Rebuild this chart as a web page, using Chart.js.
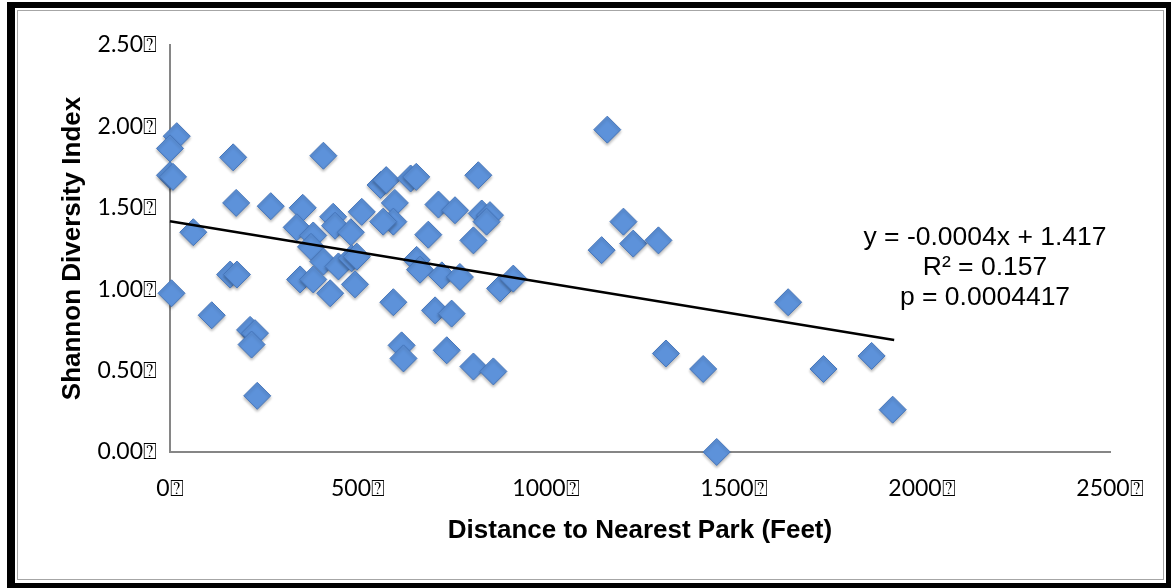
<!DOCTYPE html>
<html>
<head>
<meta charset="utf-8">
<script src="https://cdn.jsdelivr.net/npm/chart.js@4/dist/chart.umd.min.js"></script>
<style>
  html, body { margin: 0; padding: 0; background: #fff; }
  body { width: 1171px; height: 588px; position: relative; overflow: hidden; }
  .frame-outer { position: absolute; left: 7px; top: 2px; right: 0; bottom: 0; background: #000; }
  .frame-inner { position: absolute; left: 15px; top: 8px; width: 1151px; height: 575px; background: #fff; }
  .frame-line { position: absolute; left: 17px; top: 10px; width: 1145px; height: 568px; border: 1px solid #a6a6a6; }
  #chart { position: absolute; left: 0; top: 0; }
</style>
</head>
<body>
<div class="frame-outer"></div>
<div class="frame-inner"></div>
<div class="frame-line"></div>
<canvas id="chart" width="1171" height="588"></canvas>
<script>
// distance to nearest park (feet) and Shannon index
const distance = [
  18, 0, 0, 8, 168, 408, 176, 268, 353, 62,
  337, 381, 434, 439, 481, 510, 560, 575, 640, 655,
  598, 594, 567, 375, 408, 448, 483, 497, 656, 665,
  160, 178, 346, 381, 426, 492, 4, 111, 213, 226,
  217, 232, 594, 616, 621, 1163, 820, 714, 758, 829,
  851, 842, 687, 807, 1206, 1148, 1232, 1299, 723, 771,
  878, 913, 705, 749, 736, 807, 860, 1319, 1418, 1454,
  1644, 1738, 1866, 1922
];
const shannon = [
  1.94, 1.865, 1.70, 1.69, 1.81, 1.82, 1.53, 1.51, 1.50, 1.35,
  1.38, 1.33, 1.445, 1.39, 1.35, 1.475, 1.64, 1.67, 1.68, 1.69,
  1.53, 1.415, 1.415, 1.26, 1.17, 1.14, 1.19, 1.20, 1.18, 1.12,
  1.09, 1.09, 1.06, 1.06, 0.975, 1.03, 0.975, 0.84, 0.75, 0.73,
  0.66, 0.345, 0.92, 0.655, 0.575, 1.98, 1.70, 1.52, 1.485, 1.465,
  1.455, 1.415, 1.335, 1.30, 1.415, 1.24, 1.28, 1.30, 1.085, 1.075,
  1.005, 1.065, 0.87, 0.85, 0.625, 0.525, 0.495, 0.605, 0.51, 0.0,
  0.92, 0.51, 0.59, 0.26
];

// linear trend line ends
const trendX = [0, 1926];
const trendY = [1.417, 0.688];

const xTicks = [0, 500, 1000, 1500, 2000, 2500];
const yTicks = [0, 0.5, 1.0, 1.5, 2.0, 2.5];
const fitLabel = ['y = -0.0004x + 1.417', 'R\u00B2 = 0.157', 'p = 0.0004417'];
const box = '\u2370';

const points = distance.map((d, i) => ({ x: d, y: shannon[i] }));
const trend = trendX.map((d, i) => ({ x: d, y: trendY[i] }));

const fitText = {
  id: 'fitText',
  afterDraw(chart) {
    const ctx = chart.ctx;
    ctx.save();
    ctx.font = '26.5px "Liberation Sans", Arial, sans-serif';
    ctx.fillStyle = '#000';
    ctx.textAlign = 'center';
    ctx.textBaseline = 'middle';
    fitLabel.forEach((t, i) => ctx.fillText(t, 985, 238 + i * 30));
    ctx.restore();
  }
};

const markerShadow = {
  id: 'markerShadow',
  beforeDatasetDraw(chart, args) {
    if (args.index !== 0) return;
    const ctx = chart.ctx;
    ctx.save();
    ctx.shadowColor = 'rgba(0,0,0,0.28)';
    ctx.shadowBlur = 3;
    ctx.shadowOffsetY = 2;
  },
  afterDatasetDraw(chart, args) {
    if (args.index !== 0) return;
    chart.ctx.restore();
  }
};

new Chart(document.getElementById('chart'), {
  type: 'scatter',
  data: {
    datasets: [
      {
        data: points,
        order: 1,
        clip: false,
        pointStyle: 'rectRot',
        pointRadius: 13.5,
        pointBackgroundColor: '#5d92da',
        pointBorderColor: '#4676bb',
        pointBorderWidth: 1
      },
      {
        type: 'line',
        data: trend,
        order: 0,
        clip: false,
        borderColor: '#000',
        borderWidth: 2.5,
        pointRadius: 0,
        fill: false
      }
    ]
  },
  options: {
    responsive: false,
    animation: false,
    events: [],
    layout: { padding: { left: 0, top: 45, right: 61, bottom: 0 } },
    plugins: { legend: { display: false }, tooltip: { enabled: false } },
    scales: {
      x: {
        type: 'linear',
        min: 0,
        max: 2500,
        afterFit: (s) => { s.height = 136; },
        afterBuildTicks: (s) => { s.ticks = xTicks.map(v => ({ value: v })); },
        grid: { drawOnChartArea: false, drawTicks: false },
        border: { color: '#868686', width: 2 },
        ticks: {
          padding: 23,
          color: '#000',
          font: { family: 'Lato', size: 23 },
          maxRotation: 0,
          callback: (v) => v + box
        },
        title: {
          display: true,
          text: 'Distance to Nearest Park (Feet)',
          color: '#000',
          font: { family: '"Liberation Sans", Arial', size: 26, weight: 'bold' },
          padding: { top: 0, bottom: 42 }
        }
      },
      y: {
        min: 0,
        max: 2.5,
        afterFit: (s) => { s.width = 170; },
        afterBuildTicks: (s) => { s.ticks = yTicks.map(v => ({ value: v })); },
        grid: { drawOnChartArea: false, drawTicks: false },
        border: { color: '#868686', width: 2 },
        ticks: {
          padding: 13,
          color: '#000',
          font: { family: 'Lato', size: 23 },
          callback: (v) => v.toFixed(2) + box
        },
        title: {
          display: true,
          text: 'Shannon Diversity Index',
          color: '#000',
          font: { family: '"Liberation Sans", Arial', size: 26, weight: 'bold' },
          padding: { top: 57, bottom: 0 }
        }
      }
    }
  },
  plugins: [markerShadow, fitText]
});
</script>
</body>
</html>
